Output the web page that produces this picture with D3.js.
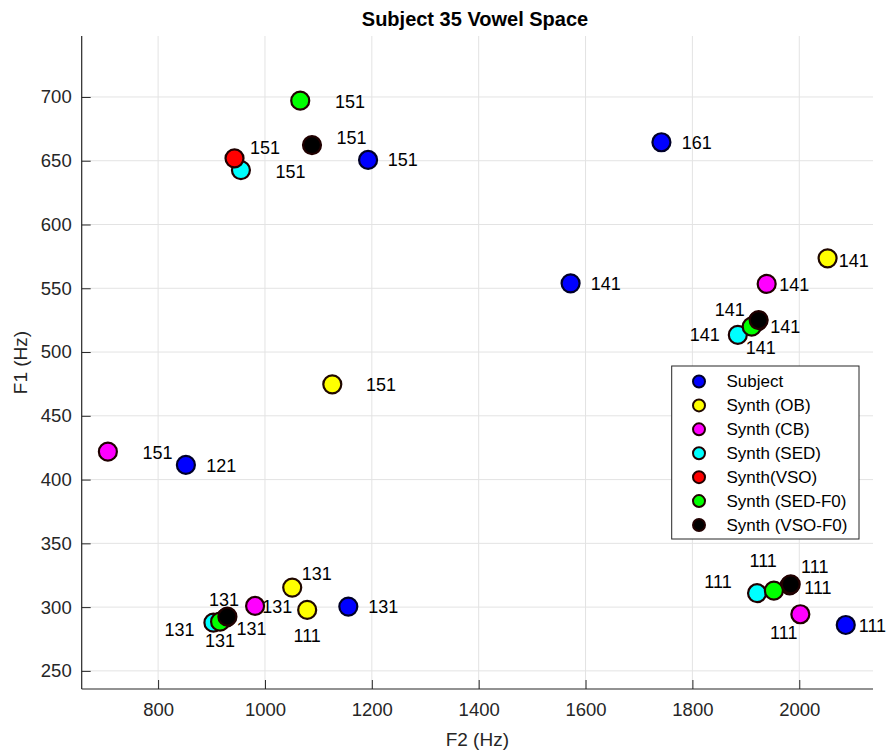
<!DOCTYPE html>
<html>
<head>
<meta charset="utf-8">
<script src="https://cdn.jsdelivr.net/npm/d3@7"></script>
<style>
  html, body { margin: 0; padding: 0; background: #fff; }
  svg { display: block; font-family: "Liberation Sans", Arial, Helvetica, sans-serif; }
</style>
</head>
<body>
<svg id="chart" width="888" height="750"></svg>
<script>
// ---------- data ----------
const seriesNames = ["Subject", "Synth (OB)", "Synth (CB)", "Synth (SED)", "Synth(VSO)", "Synth (SED-F0)", "Synth (VSO-F0)"];
const seriesColors = ["#0000ff", "#ffff00", "#ff00ff", "#00ffff", "#ff0000", "#00ff00", "#000000"];
const seriesEdges  = ["#000028", "#200800", "#200000", "#200000", "#200000", "#200000", "#200000"];

// F2 (x) and F1 (y) in Hz, label text, label anchor (in Hz)
const subjectF2 = [1193, 1742, 1572, 852, 1156, 2087];
const subjectF1 = [650.6, 664.5, 553.9, 411.5, 300.4, 286];
const subjectTxt = ["151", "161", "141", "121", "131", "111"];
const subjectLblF2 = [1258, 1808, 1638, 918, 1221.5, 2137];
const subjectLblF1 = [650.6, 663.7, 553.1, 410.7, 299.9, 285.2];

const obF2 = [1126, 2053, 1051, 1079];
const obF1 = [474.7, 573.5, 315.3, 297.8];
const obTxt = ["151", "141", "131", "111"];
const obLblF2 = [1217, 2102, 1097, 1079];
const obLblF1 = [474.2, 571.6, 326, 277.4];

const cbF2 = [706, 1939, 981.5, 2002];
const cbF1 = [421.9, 553.4, 300.9, 294.4];
const cbTxt = ["151", "141", "131", "111"];
const cbLblF2 = [798.7, 1990.5, 1023, 1971];
const cbLblF1 = [420.6, 552.6, 299.9, 279.5];

const sedF2 = [955, 1885, 903.5, 1921];
const sedF1 = [642.7, 513.4, 287.8, 310.9];
const sedTxt = ["151", "141", "131", "111"];
const sedLblF2 = [1048, 1823, 840, 1848];
const sedLblF1 = [641.4, 513.4, 282.1, 319.5];

const vsoF2 = [943, 1922, 927, 1982];
const vsoF1 = [651.9, 524, 291.5, 317];
const vsoTxt = ["151", "141", "131", "111"];
const vsoLblF2 = [1000, 1870, 923.5, 1932.5];
const vsoLblF1 = [660, 533, 305.6, 336.2];

const sedF0F2 = [1066, 1911, 916, 1952.5];
const sedF0F1 = [697.1, 519.9, 288.6, 312.9];
const sedF0Txt = ["151", "141", "131", "111"];
const sedF0LblF2 = [1159, 1928, 916, 2029];
const sedF0LblF1 = [696.3, 503, 273.7, 331.3];

const vsoF0F2 = [1088, 1924, 929.7, 1984];
const vsoF0F1 = [662.3, 525.1, 292.5, 317.9];
const vsoF0Txt = ["151", "141", "131", "111"];
const vsoF0LblF2 = [1162, 1974, 975, 2035];
const vsoF0LblF1 = [667.6, 519.4, 282.6, 314.8];

const xTicks = [800, 1000, 1200, 1400, 1600, 1800, 2000];
const yTicks = [250, 300, 350, 400, 450, 500, 550, 600, 650, 700];
const xDomain = [657, 2138];
const yDomain = [235.8, 747.8];

const titleText = "Subject 35 Vowel Space";
const xLabelText = "F2 (Hz)";
const yLabelText = "F1 (Hz)";

// ---------- build ----------
const seriesData = [
  [subjectF2, subjectF1, subjectTxt, subjectLblF2, subjectLblF1],
  [obF2, obF1, obTxt, obLblF2, obLblF1],
  [cbF2, cbF1, cbTxt, cbLblF2, cbLblF1],
  [sedF2, sedF1, sedTxt, sedLblF2, sedLblF1],
  [vsoF2, vsoF1, vsoTxt, vsoLblF2, vsoLblF1],
  [sedF0F2, sedF0F1, sedF0Txt, sedF0LblF2, sedF0LblF1],
  [vsoF0F2, vsoF0F1, vsoF0Txt, vsoF0LblF2, vsoF0LblF1]
].map((s, i) => ({
  name: seriesNames[i], color: seriesColors[i], edge: seriesEdges[i],
  points: s[0].map((f2, j) => ({ f2, f1: s[1][j], txt: s[2][j], lf2: s[3][j], lf1: s[4][j] }))
}));

const svg = d3.select("#chart");
const L = 81.7, R = 873, T = 36, B = 689;
const x = d3.scaleLinear().domain(xDomain).range([L, R]);
const y = d3.scaleLinear().domain(yDomain).range([B, T]);
const axisColor = "#262626";

// grid
const grid = svg.append("g");
grid.selectAll("line.gx").data(xTicks).enter().append("line")
  .attr("x1", d => x(d)).attr("x2", d => x(d)).attr("y1", T).attr("y2", B)
  .attr("stroke", "#e3e3e3").attr("stroke-width", 1);
grid.selectAll("line.gy").data(yTicks).enter().append("line")
  .attr("y1", d => y(d)).attr("y2", d => y(d)).attr("x1", L).attr("x2", R)
  .attr("stroke", "#e3e3e3").attr("stroke-width", 1);

// axes
const xAxis = d3.axisBottom(x).tickValues(xTicks).tickSize(-9).tickPadding(14).tickFormat(d3.format("d"));
const yAxis = d3.axisLeft(y).tickValues(yTicks).tickSize(-9).tickPadding(10).tickFormat(d3.format("d"));
const gx = svg.append("g").attr("transform", `translate(0,${B})`).call(xAxis);
const gy = svg.append("g").attr("transform", `translate(${L},0)`).call(yAxis);
[gx, gy].forEach(g => {
  g.select(".domain").remove();
  g.selectAll(".tick line").attr("stroke", axisColor).attr("stroke-width", 1);
  g.selectAll(".tick text").attr("fill", axisColor).attr("font-size", "18.5px")
    .attr("font-family", "Liberation Sans, Arial, sans-serif");
});
svg.append("line").attr("x1", L).attr("x2", R).attr("y1", B).attr("y2", B).attr("stroke", axisColor).attr("stroke-width", 1.2);
svg.append("line").attr("x1", L).attr("x2", L).attr("y1", T).attr("y2", B).attr("stroke", axisColor).attr("stroke-width", 1.2);

// axis labels and title
svg.append("text").attr("x", (L + R) / 2).attr("y", 741).attr("text-anchor", "middle")
  .attr("dominant-baseline", "middle").attr("font-size", "19px").attr("fill", axisColor).text(xLabelText);
svg.append("text").attr("transform", `translate(22,${(T + B) / 2}) rotate(-90)`).attr("text-anchor", "middle")
  .attr("dominant-baseline", "middle").attr("font-size", "19px").attr("fill", axisColor).text(yLabelText);
svg.append("text").attr("x", 475).attr("y", 21).attr("text-anchor", "middle")
  .attr("dominant-baseline", "middle").attr("font-size", "20px").attr("font-weight", "bold")
  .attr("fill", "#000").text(titleText);

// markers
const marks = svg.append("g");
seriesData.forEach(s => {
  marks.append("g").selectAll("circle").data(s.points).enter().append("circle")
    .attr("cx", d => x(d.f2)).attr("cy", d => y(d.f1)).attr("r", 9)
    .attr("fill", s.color).attr("stroke", s.edge).attr("stroke-width", 2.2);
});

// point labels
const labels = svg.append("g");
seriesData.forEach(s => {
  labels.append("g").selectAll("text").data(s.points).enter().append("text")
    .attr("x", d => x(d.lf2)).attr("y", d => y(d.lf1))
    .attr("text-anchor", "middle").attr("dominant-baseline", "central")
    .attr("font-size", "18px").attr("fill", "#000").text(d => d.txt);
});

// legend
const lg = svg.append("g");
lg.append("rect").attr("x", 671.7).attr("y", 366).attr("width", 187.3).attr("height", 173)
  .attr("fill", "#fff").attr("stroke", axisColor).attr("stroke-width", 1);
const rowY = d3.scaleLinear().domain([0, seriesNames.length - 1]).range([381.5, 525]);
const rows = lg.selectAll("g.row").data(seriesData).enter().append("g")
  .attr("transform", (d, i) => `translate(0,${rowY(i)})`);
rows.append("circle").attr("cx", 699).attr("cy", 0).attr("r", 6)
  .attr("fill", d => d.color).attr("stroke", d => d.edge).attr("stroke-width", 2);
rows.append("text").attr("x", 726.5).attr("y", 0).attr("dominant-baseline", "central")
  .attr("font-size", "17px").attr("fill", "#000").text(d => d.name);
</script>
</body>
</html>
